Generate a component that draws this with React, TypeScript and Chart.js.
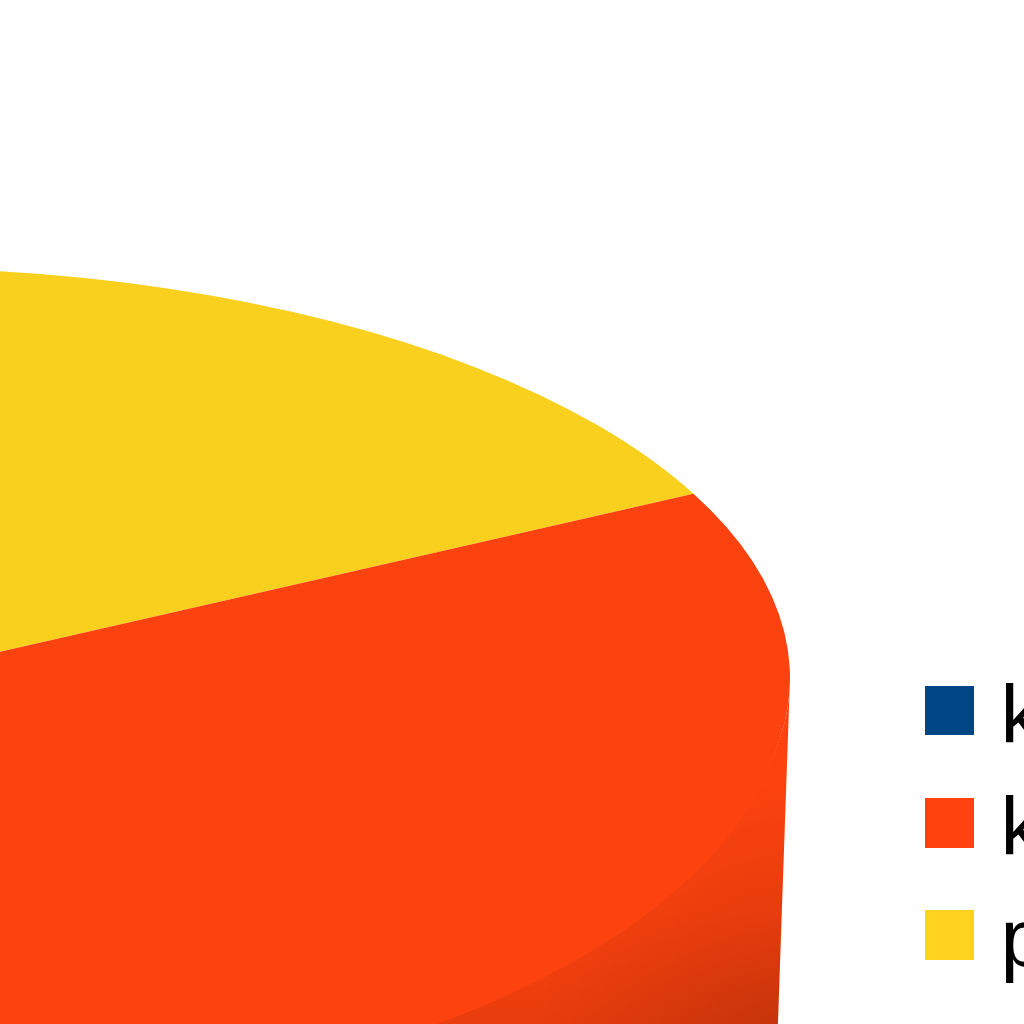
import React, { useEffect, useRef } from 'react';
import { Chart, registerables } from 'chart.js';

Chart.register(...registerables);

// slices in drawing order (clockwise); the blue one lies outside the crop
const sliceLabels = ['p', 'k', 'k'];
const sliceValues = [25, 45, 30];
const sliceColors = ['#fad01e', '#fc420e', '#004586'];
const swatchColors = ['#ffd320', '#ff420e', '#004586'];

// the reference is a crop of a big 3D pie, so the centre sits left of the page
const CENTER_X = -115;
const CENTER_Y = 678;
const RADIUS_X = 905;
const RADIUS_Y = 410;
const FRONT_RADIUS_Y = 437; // perspective makes the near edge a bit rounder
const SQUASH = RADIUS_Y / RADIUS_X;
const WALL_DEPTH = 400;
const WALL_TAPER = 14;

const pie3d = {
  id: 'pie3d',
  beforeDatasetsDraw(chart: Chart) {
    const { ctx } = chart;
    const arcs = chart.getDatasetMeta(0).data as any[];
    const cx = arcs[0].x;
    const cy = arcs[0].y;
    const rx2 = RADIUS_X - WALL_TAPER;
    const ry2 = rx2 * SQUASH;

    // side wall, only the front half of the pie shows it
    arcs.forEach((arc, i) => {
      const a0 = arc.startAngle;
      const a1 = arc.endAngle;
      const ranges: [number, number][] = [
        [Math.max(a0, 0), Math.min(a1, Math.PI)],
        [Math.max(a0, 2 * Math.PI), Math.min(a1, 3 * Math.PI)],
      ];
      ranges.forEach(([from, to]) => {
        if (to <= from) return;
        // starts a little inside the top so no hairline shows along the seam
        ctx.beginPath();
        ctx.ellipse(cx, cy, RADIUS_X, RADIUS_Y - 6, 0, from, to);
        ctx.ellipse(cx, cy + WALL_DEPTH, rx2, ry2, 0, to, from, true);
        ctx.closePath();
        ctx.fillStyle = sliceColors[i];
        ctx.fill();

        // shading starts under the rounder front edge
        ctx.save();
        ctx.beginPath();
        ctx.ellipse(cx, cy, RADIUS_X, FRONT_RADIUS_Y, 0, from, to);
        ctx.ellipse(cx, cy + WALL_DEPTH, rx2, ry2, 0, to, from, true);
        ctx.closePath();
        ctx.clip();
        const down = ctx.createLinearGradient(0, cy + 230, 0, cy + 346);
        down.addColorStop(0, 'rgba(0,0,0,0)');
        down.addColorStop(1, 'rgba(0,0,0,0.08)');
        ctx.fillStyle = down;
        ctx.fillRect(cx, cy, RADIUS_X + 1, WALL_DEPTH + ry2);
        const corner = ctx.createRadialGradient(cx + 915, cy + 372, 0, cx + 915, cy + 372, 270);
        corner.addColorStop(0, 'rgba(0,0,0,0.17)');
        corner.addColorStop(1, 'rgba(0,0,0,0)');
        ctx.fillStyle = corner;
        ctx.fillRect(cx, cy, RADIUS_X + 1, WALL_DEPTH + ry2);
        ctx.restore();
      });
    });

    // flatten the pie top into an ellipse
    ctx.save();
    ctx.translate(0, cy);
    ctx.scale(1, SQUASH);
    ctx.translate(0, -cy);
  },
  afterDatasetsDraw(chart: Chart) {
    chart.ctx.restore();
  },
};

const App: React.FC = () => {
  const chartRef = useRef<HTMLCanvasElement>(null);

  useEffect(() => {
    if (!chartRef.current) return;
    const chart = new Chart(chartRef.current, {
      type: 'pie',
      data: {
        labels: sliceLabels,
        datasets: [{
          data: sliceValues,
          backgroundColor: sliceColors,
          borderWidth: 0,
          clip: false,
        }],
      },
      options: {
        animation: false,
        responsive: false,
        rotation: -26.7,
        layout: { padding: 0 },
        plugins: {
          legend: { display: false },
          tooltip: { enabled: false },
        },
      },
      plugins: [pie3d],
    });

    return () => chart.destroy();
  }, []);

  return (
    <div style={{ position: 'fixed', left: 0, top: 0, width: 1024, height: 1024, overflow: 'hidden', background: '#fff' }}>
      <canvas
        ref={chartRef}
        width={RADIUS_X * 2}
        height={RADIUS_X * 2}
        style={{ position: 'absolute', left: CENTER_X - RADIUS_X, top: CENTER_Y - RADIUS_X }}
      />
      {[2, 1, 0].map((slice, row) => (
        <div key={row}>
          <div
            style={{
              position: 'absolute',
              left: 925,
              top: 686 + row * 112,
              width: 49,
              height: row === 0 ? 49 : 50,
              backgroundColor: swatchColors[slice],
            }}
          />
          <span
            style={{
              position: 'absolute',
              left: 1000.5,
              top: 673 + row * 112,
              font: '82px/82px "Liberation Sans"',
              color: '#000',
              whiteSpace: 'nowrap',
            }}
          >
            {sliceLabels[slice]}
          </span>
        </div>
      ))}
    </div>
  );
};

export default App;
